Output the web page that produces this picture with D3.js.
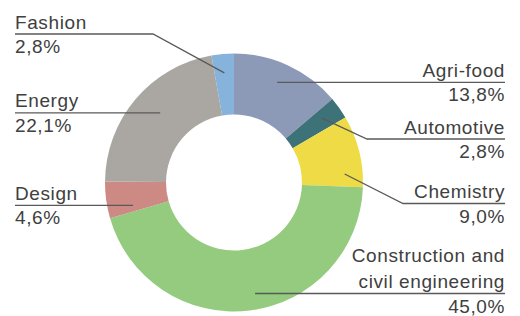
<!DOCTYPE html>
<html>
<head>
<meta charset="utf-8">
<title>Sectors donut</title>
<script src="https://cdn.jsdelivr.net/npm/d3@7"></script>
<style>
  body { margin: 0; background: #fff; }
  text { font-family: "Liberation Sans", "Helvetica", sans-serif; fill: #404040; letter-spacing: 0.6px; }
</style>
</head>
<body>
<svg width="520" height="316"></svg>
<script>
// data, clockwise from 12 o'clock
var sectors = ["Agri-food", "Automotive", "Chemistry", "Construction and\ncivil engineering", "Design", "Energy", "Fashion"];
var shares = [13.8, 2.8, 9.0, 45.0, 4.6, 22.1, 2.8];
var shareLabels = ["13,8%", "2,8%", "9,0%", "45,0%", "4,6%", "22,1%", "2,8%"];
var colors = ["#8c9ab8", "#3c7278", "#eedb46", "#95cb7f", "#cd8983", "#aaa7a3", "#86b3dc"];

// leader layout: where the leader touches the slice (fraction along slice, radius),
// which side the label sits and the y of the underline when it bends
var leaders = [
  { frac: 0.47, r: 109, side: "right" },
  { frac: 0.41, r: 109, side: "right", lineY: 139, elbowX: 367 },
  { frac: 0.80, r: 111, side: "right", lineY: 203.5, elbowX: 403 },
  { frac: 0.477, r: 113, side: "right" },
  { frac: 0.20, r: 103.5, side: "left" },
  { frac: 0.54, r: 101.5, side: "left" },
  { frac: 0.50, r: 110, side: "left", lineY: 34, elbowX: 153 }
];

var svg = d3.select("svg"),
    cx = 234, cy = 182.5,
    innerRadius = 68, outerRadius = 129,
    leftX = 15, rightX = 505,
    g = svg.append("g").attr("transform", "translate(" + cx + "," + cy + ")");

var data = sectors.map(function(s, i) { return { name: s, value: shares[i], label: shareLabels[i], color: colors[i], lay: leaders[i] }; });

var pie = d3.pie().sort(null).value(function(d) { return d.value; });
var arc = d3.arc().innerRadius(innerRadius).outerRadius(outerRadius);
var arcs = pie(data);

g.selectAll("path.slice")
  .data(arcs)
  .enter().append("path")
    .attr("class", "slice")
    .attr("fill", function(d) { return d.data.color; })
    .attr("d", arc);

var labels = svg.append("g");

arcs.forEach(function(d) {
  var lay = d.data.lay,
      a = d.startAngle + lay.frac * (d.endAngle - d.startAngle),
      px = cx + lay.r * Math.sin(a),
      py = cy - lay.r * Math.cos(a),
      lineY = lay.lineY != null ? lay.lineY : py,
      endX = lay.side === "right" ? rightX : leftX;

  var pts = [[px, py]];
  if (lay.elbowX != null) pts.push([lay.elbowX, lineY]);
  pts.push([endX, lineY]);

  labels.append("path")
    .attr("d", d3.line()(pts))
    .attr("fill", "none")
    .attr("stroke", "#5a5a5a")
    .attr("stroke-width", 1.3);

  var anchor = lay.side === "right" ? "end" : "start";
  var lines = d.data.name.split("\n");
  var t = labels.append("text")
    .attr("text-anchor", anchor)
    .attr("font-size", 19);
  lines.forEach(function(l, j) {
    t.append("tspan")
      .attr("x", endX)
      .attr("y", lineY - 5.5 - (lines.length - 1 - j) * 26)
      .text(l);
  });

  labels.append("text")
    .attr("text-anchor", anchor)
    .attr("font-size", 19)
    .attr("x", endX)
    .attr("y", lineY + 19)
    .text(d.data.label);
});
</script>
</body>
</html>
